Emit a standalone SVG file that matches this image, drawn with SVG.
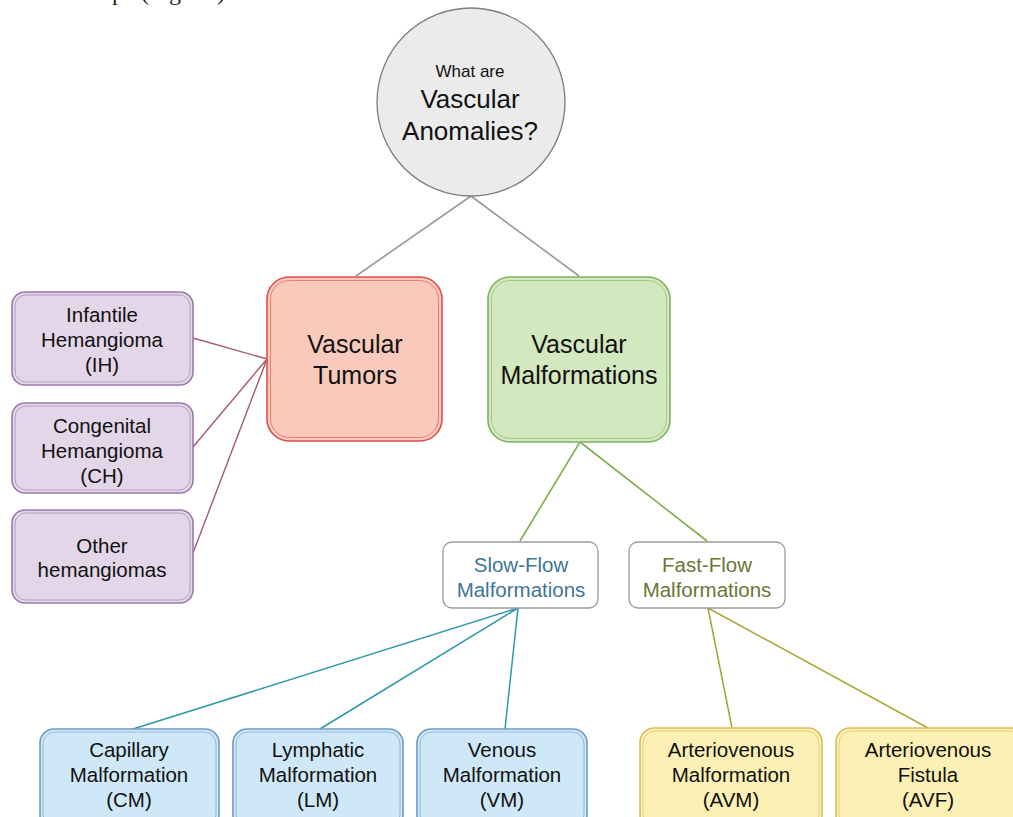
<svg xmlns="http://www.w3.org/2000/svg" width="1013" height="817" viewBox="0 0 1013 817">
<style>
text{font-family:"Liberation Sans",Arial,sans-serif;fill:#111;text-anchor:middle}
.frag{font-family:"Liberation Serif","Times New Roman",serif;font-size:24px;text-anchor:start;fill:#222}
.t26{font-size:26px}
.t25{font-size:25px}
.t20{font-size:20.5px}
.t17{font-size:17px}
.o{stroke-width:1.6}
.i{fill:none;stroke-width:1;stroke-opacity:.75}
.red{fill:#f9cabb;stroke:#dd4f4f}
.red-i{stroke:#e06666}
.grn{fill:#d4e8bf;stroke:#7fb260}
.grn-i{stroke:#8fbf70}
.pur{fill:#e2d6e8;stroke:#9a7aac}
.pur-i{stroke:#a68ab5}
.blu{fill:#cfe8f8;stroke:#6f9cc6}
.blu-i{stroke:#80a8cc}
.yel{fill:#fdf0b4;stroke:#d9bd5e}
.yel-i{stroke:#dcc26a}
.wht{fill:#fff;stroke:#9a9a9a;stroke-width:1.3}
.c-grey{stroke:#999;stroke-width:1.6;fill:none}
.c-mauve{stroke:#a35c6d;stroke-width:1.4;fill:none}
.c-green{stroke:#7fae4f;stroke-width:1.6;fill:none}
.c-teal{stroke:#2f98a9;stroke-width:1.5;fill:none}
.c-olive{stroke:#a9a733;stroke-width:1.5;fill:none}
</style>

<g id="page-fragment">
<text class="frag" y="0"><tspan x="112">p</tspan><tspan x="141">(Fig.</tspan><tspan x="205">1)</tspan></text>
</g>

<g id="connectors">
<line class="c-grey" x1="471" y1="196" x2="356" y2="276"/>
<line class="c-grey" x1="471" y1="196" x2="579" y2="276"/>
<line class="c-mauve" x1="193" y1="338" x2="267" y2="359"/>
<line class="c-mauve" x1="193" y1="447" x2="267" y2="359"/>
<line class="c-mauve" x1="193" y1="553" x2="267" y2="359"/>
<line class="c-green" x1="580" y1="442" x2="520" y2="541"/>
<line class="c-green" x1="580" y1="442" x2="707" y2="541"/>
<line class="c-teal" x1="518" y1="608" x2="133" y2="729"/>
<line class="c-teal" x1="518" y1="608" x2="320" y2="729"/>
<line class="c-teal" x1="518" y1="608" x2="505" y2="729"/>
<line class="c-olive" x1="708" y1="608" x2="732" y2="728"/>
<line class="c-olive" x1="708" y1="608" x2="928" y2="728"/>
</g>

<g id="root">
<circle cx="471" cy="102" r="94" fill="#ebebeb" stroke="#7d7d7d" stroke-width="1.3"/>
<text class="t17" x="470" y="77">What are</text>
<text class="t26" x="470" y="108">Vascular</text>
<text class="t26" x="470" y="140">Anomalies?</text>
</g>

<g id="vascular-tumors">
<rect class="o red" x="267" y="277" width="175" height="164" rx="22"/>
<rect class="i red-i" x="270.5" y="280.5" width="168" height="157" rx="19"/>
<text class="t25" x="355" y="353">Vascular</text>
<text class="t25" x="355" y="384">Tumors</text>
</g>

<g id="vascular-malformations">
<rect class="o grn" x="488" y="277" width="182" height="165" rx="22"/>
<rect class="i grn-i" x="491.5" y="280.5" width="175" height="158" rx="19"/>
<text class="t25" x="579" y="353">Vascular</text>
<text class="t25" x="579" y="384">Malformations</text>
</g>

<g id="infantile-hemangioma">
<rect class="o pur" x="12" y="292" width="181" height="93" rx="13"/>
<rect class="i pur-i" x="15" y="295" width="175" height="87" rx="11"/>
<text class="t20" x="102" y="322">Infantile</text>
<text class="t20" x="102" y="347">Hemangioma</text>
<text class="t20" x="102" y="372">(IH)</text>
</g>

<g id="congenital-hemangioma">
<rect class="o pur" x="12" y="403" width="181" height="90" rx="13"/>
<rect class="i pur-i" x="15" y="406" width="175" height="84" rx="11"/>
<text class="t20" x="102" y="433">Congenital</text>
<text class="t20" x="102" y="458">Hemangioma</text>
<text class="t20" x="102" y="483">(CH)</text>
</g>

<g id="other-hemangiomas">
<rect class="o pur" x="12" y="510" width="181" height="93" rx="13"/>
<rect class="i pur-i" x="15" y="513" width="175" height="87" rx="11"/>
<text class="t20" x="102" y="553">Other</text>
<text class="t20" x="102" y="577">hemangiomas</text>
</g>

<g id="slow-flow">
<rect class="wht" x="443" y="542" width="155" height="66" rx="9"/>
<text class="t20" x="521" y="572" style="fill:#3f7596">Slow-Flow</text>
<text class="t20" x="521" y="597" style="fill:#3f7596">Malformations</text>
</g>

<g id="fast-flow">
<rect class="wht" x="629" y="542" width="156" height="66" rx="9"/>
<text class="t20" x="707" y="572" style="fill:#6a7636">Fast-Flow</text>
<text class="t20" x="707" y="597" style="fill:#6a7636">Malformations</text>
</g>

<g id="capillary-malformation">
<rect class="o blu" x="40" y="729" width="179" height="100" rx="14"/>
<rect class="i blu-i" x="43" y="732" width="173" height="94" rx="12"/>
<text class="t20" x="129" y="757">Capillary</text>
<text class="t20" x="129" y="782">Malformation</text>
<text class="t20" x="129" y="807">(CM)</text>
</g>

<g id="lymphatic-malformation">
<rect class="o blu" x="233" y="729" width="170" height="100" rx="14"/>
<rect class="i blu-i" x="236" y="732" width="164" height="94" rx="12"/>
<text class="t20" x="318" y="757">Lymphatic</text>
<text class="t20" x="318" y="782">Malformation</text>
<text class="t20" x="318" y="807">(LM)</text>
</g>

<g id="venous-malformation">
<rect class="o blu" x="417" y="729" width="170" height="100" rx="14"/>
<rect class="i blu-i" x="420" y="732" width="164" height="94" rx="12"/>
<text class="t20" x="502" y="757">Venous</text>
<text class="t20" x="502" y="782">Malformation</text>
<text class="t20" x="502" y="807">(VM)</text>
</g>

<g id="arteriovenous-malformation">
<rect class="o yel" x="640" y="728" width="182" height="101" rx="14"/>
<rect class="i yel-i" x="643" y="731" width="176" height="95" rx="12"/>
<text class="t20" x="731" y="757">Arteriovenous</text>
<text class="t20" x="731" y="782">Malformation</text>
<text class="t20" x="731" y="807">(AVM)</text>
</g>

<g id="arteriovenous-fistula">
<rect class="o yel" x="836" y="728" width="190" height="101" rx="14"/>
<rect class="i yel-i" x="839" y="731" width="184" height="95" rx="12"/>
<text class="t20" x="928" y="757">Arteriovenous</text>
<text class="t20" x="928" y="782">Fistula</text>
<text class="t20" x="928" y="807">(AVF)</text>
</g>
</svg>
